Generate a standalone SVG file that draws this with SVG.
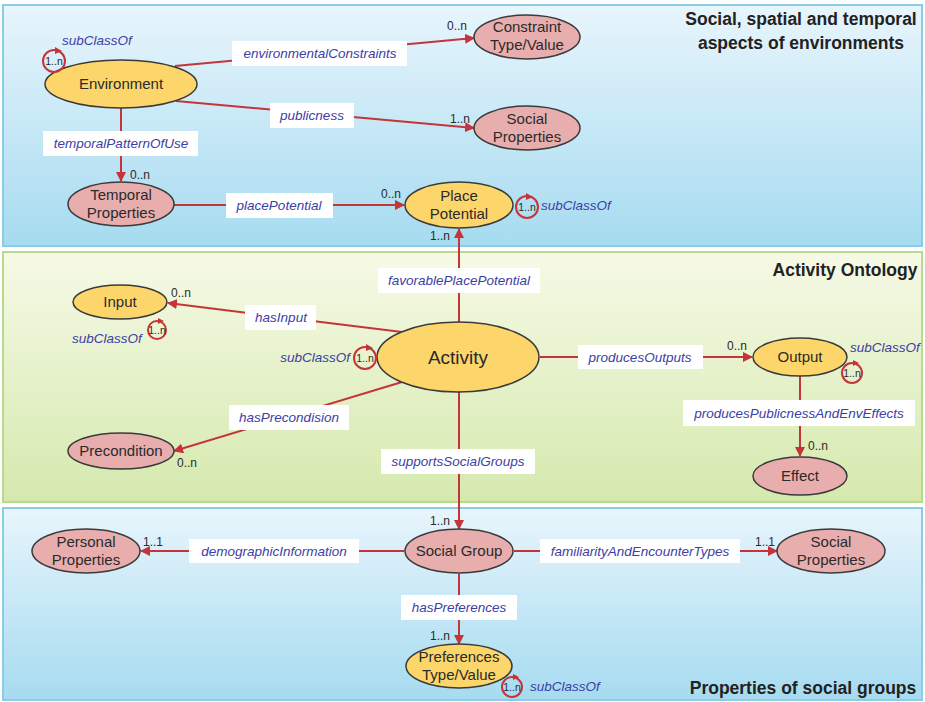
<svg xmlns="http://www.w3.org/2000/svg" width="925" height="702" viewBox="0 0 925 702">
  <defs>
    <linearGradient id="gBlue" x1="0" y1="0" x2="0" y2="1">
      <stop offset="0" stop-color="#e8f5fc"/>
      <stop offset="1" stop-color="#a6dbf0"/>
    </linearGradient>
    <linearGradient id="gGreen" x1="0" y1="0" x2="0" y2="1">
      <stop offset="0" stop-color="#f6fae6"/>
      <stop offset="1" stop-color="#d5e9ae"/>
    </linearGradient>
    <marker id="arr" viewBox="0 0 10 10" refX="9" refY="5" markerWidth="10" markerHeight="10" markerUnits="userSpaceOnUse" orient="auto">
      <path d="M0,0 L10,5 L0,10 z" fill="#c4343a"/>
    </marker>
  </defs>
  <style>
    .panelB { fill: url(#gBlue); stroke: #8ccbe6; stroke-width: 2; }
    .panelG { fill: url(#gGreen); stroke: #b8da8c; stroke-width: 2; }
    .title { font-family: "Liberation Sans", Arial, sans-serif; font-weight: bold; font-size: 17.5px; fill: #222; text-anchor: middle; }
    .yel { fill: #fcd66b; stroke: #3a3a3a; stroke-width: 1.5; }
    .pnk { fill: #e8aeae; stroke: #3a3a3a; stroke-width: 1.5; }
    .nt { font-family: "Liberation Sans", Arial, sans-serif; font-size: 15px; fill: #2a2a2a; text-anchor: middle; }
    .edge { stroke: #c4343a; stroke-width: 2; fill: none; }
    .lbox { fill: #ffffff; }
    .lt { font-family: "Liberation Sans", Arial, sans-serif; font-style: italic; font-size: 13.5px; fill: #3c40a6; text-anchor: middle; }
    .sc { font-family: "Liberation Sans", Arial, sans-serif; font-style: italic; font-size: 13.5px; fill: #3c40a6; }
    .m { font-family: "Liberation Sans", Arial, sans-serif; font-size: 12px; fill: #2a2a2a; }
    .loop { stroke: #c4343a; stroke-width: 2; fill: none; }
    .lm { font-family: "Liberation Sans", Arial, sans-serif; font-size: 10.5px; fill: #2a2a2a; text-anchor: middle; }
  </style>

  <!-- panels -->
  <rect class="panelB" x="3" y="5" width="919" height="241"/>
  <rect class="panelG" x="3" y="252" width="919" height="250"/>
  <rect class="panelB" x="3" y="508" width="919" height="192"/>

  <text class="title" x="801" y="25">Social, spatial and temporal</text>
  <text class="title" x="801" y="49">aspects of environments</text>
  <text class="title" x="845" y="276">Activity Ontology</text>
  <text class="title" x="803" y="694">Properties of social groups</text>

  <!-- connectors -->
  <g id="connectors">
    <line class="edge" x1="175" y1="66" x2="474" y2="38" marker-end="url(#arr)"/>
    <line class="edge" x1="176" y1="101" x2="474" y2="128" marker-end="url(#arr)"/>
    <line class="edge" x1="121" y1="108" x2="121" y2="181" marker-end="url(#arr)"/>
    <line class="edge" x1="174" y1="205" x2="404" y2="205" marker-end="url(#arr)"/>
    <line class="edge" x1="459" y1="322" x2="459" y2="229" marker-end="url(#arr)"/>
    <line class="edge" x1="402" y1="332" x2="168" y2="303" marker-end="url(#arr)"/>
    <line class="edge" x1="402" y1="382" x2="174" y2="451" marker-end="url(#arr)"/>
    <line class="edge" x1="540" y1="357" x2="752" y2="357" marker-end="url(#arr)"/>
    <line class="edge" x1="800" y1="376" x2="800" y2="456" marker-end="url(#arr)"/>
    <line class="edge" x1="459" y1="392" x2="459" y2="529" marker-end="url(#arr)"/>
    <line class="edge" x1="404" y1="551" x2="141" y2="551" marker-end="url(#arr)"/>
    <line class="edge" x1="514" y1="551" x2="777" y2="551" marker-end="url(#arr)"/>
    <line class="edge" x1="459" y1="574" x2="459" y2="644" marker-end="url(#arr)"/>

    <!-- edge labels -->
    <rect class="lbox" x="232" y="41" width="175" height="25"/>
    <text class="lt" x="320" y="58">environmentalConstraints</text>
    <rect class="lbox" x="270" y="103" width="84" height="25"/>
    <text class="lt" x="312" y="120">publicness</text>
    <rect class="lbox" x="43" y="131" width="155" height="25"/>
    <text class="lt" x="121" y="148">temporalPatternOfUse</text>
    <rect class="lbox" x="226" y="193" width="107" height="25"/>
    <text class="lt" x="279" y="210">placePotential</text>
    <rect class="lbox" x="378" y="268" width="162" height="25"/>
    <text class="lt" x="459" y="285">favorablePlacePotential</text>
    <rect class="lbox" x="245" y="305" width="71" height="25"/>
    <text class="lt" x="281" y="322">hasInput</text>
    <rect class="lbox" x="229" y="405" width="120" height="25"/>
    <text class="lt" x="289" y="422">hasPrecondision</text>
    <rect class="lbox" x="578" y="345" width="125" height="24"/>
    <text class="lt" x="640" y="362">producesOutputs</text>
    <rect class="lbox" x="683" y="400" width="232" height="26"/>
    <text class="lt" x="799" y="418">producesPublicnessAndEnvEffects</text>
    <rect class="lbox" x="381" y="449" width="154" height="25"/>
    <text class="lt" x="458" y="466">supportsSocialGroups</text>
    <rect class="lbox" x="189" y="539" width="170" height="24"/>
    <text class="lt" x="274" y="556">demographicInformation</text>
    <rect class="lbox" x="540" y="539" width="200" height="24"/>
    <text class="lt" x="640" y="556">familiarityAndEncounterTypes</text>
    <rect class="lbox" x="401" y="595" width="116" height="25"/>
    <text class="lt" x="459" y="612">hasPreferences</text>

    <!-- multiplicities -->
    <text class="m" x="447" y="30">0..n</text>
    <text class="m" x="450" y="123">1..n</text>
    <text class="m" x="130" y="179">0..n</text>
    <text class="m" x="381" y="198">0..n</text>
    <text class="m" x="430" y="240">1..n</text>
    <text class="m" x="171" y="297">0..n</text>
    <text class="m" x="177" y="467">0..n</text>
    <text class="m" x="727" y="350">0..n</text>
    <text class="m" x="808" y="450">0..n</text>
    <text class="m" x="430" y="525">1..n</text>
    <text class="m" x="143" y="546">1..1</text>
    <text class="m" x="755" y="546">1..1</text>
    <text class="m" x="430" y="640">1..n</text>
  </g>

  <!-- nodes -->
  <g id="environment">
    <ellipse class="yel" cx="121" cy="84" rx="76" ry="24"/>
    <text class="nt" x="121" y="89">Environment</text>
    <circle class="loop" cx="54" cy="61" r="11"/>
    <path d="M55,47 L62,51 L55,54 z" fill="#c4343a"/>
    <text class="lm" x="54" y="65">1..n</text>
    <text class="sc" x="62" y="45">subClassOf</text>
  </g>
  <g id="constraint">
    <ellipse class="pnk" cx="527" cy="37" rx="53" ry="22"/>
    <text class="nt" x="527" y="32">Constraint</text>
    <text class="nt" x="527" y="50">Type/Value</text>
  </g>
  <g id="social-properties-env">
    <ellipse class="pnk" cx="527" cy="128" rx="53" ry="22"/>
    <text class="nt" x="527" y="124">Social</text>
    <text class="nt" x="527" y="142">Properties</text>
  </g>
  <g id="temporal-properties">
    <ellipse class="pnk" cx="121" cy="204" rx="53" ry="22"/>
    <text class="nt" x="121" y="200">Temporal</text>
    <text class="nt" x="121" y="218">Properties</text>
  </g>
  <g id="place-potential">
    <ellipse class="yel" cx="459" cy="205" rx="54" ry="23"/>
    <text class="nt" x="459" y="201">Place</text>
    <text class="nt" x="459" y="219">Potential</text>
    <circle class="loop" cx="527" cy="207" r="11"/>
    <path d="M526,193 L533,197 L526,200 z" fill="#c4343a"/>
    <text class="lm" x="527" y="211">1..n</text>
    <text class="sc" x="541" y="210">subClassOf</text>
  </g>
  <g id="input">
    <ellipse class="yel" cx="120" cy="302" rx="47" ry="17"/>
    <text class="nt" x="120" y="307">Input</text>
    <circle class="loop" cx="157" cy="330" r="9"/>
    <path d="M158,318 L164,321 L158,324 z" fill="#c4343a"/>
    <text class="lm" x="157" y="334">1..n</text>
    <text class="sc" x="72" y="343">subClassOf</text>
  </g>
  <g id="precondition">
    <ellipse class="pnk" cx="121" cy="451" rx="53" ry="18"/>
    <text class="nt" x="121" y="456">Precondition</text>
  </g>
  <g id="activity">
    <ellipse class="yel" cx="458" cy="357" rx="81" ry="35"/>
    <text class="nt" x="458" y="364" style="font-size:19px">Activity</text>
    <circle class="loop" cx="365" cy="358" r="11"/>
    <path d="M366,344 L373,348 L366,351 z" fill="#c4343a"/>
    <text class="lm" x="365" y="362">1..n</text>
    <text class="sc" x="350" y="362" text-anchor="end">subClassOf</text>
  </g>
  <g id="output">
    <ellipse class="yel" cx="800" cy="357" rx="47" ry="19"/>
    <text class="nt" x="800" y="362">Output</text>
    <circle class="loop" cx="852" cy="373" r="10"/>
    <path d="M853,360 L859,363 L853,366 z" fill="#c4343a"/>
    <text class="lm" x="852" y="377">1..n</text>
    <text class="sc" x="850" y="352">subClassOf</text>
  </g>
  <g id="effect">
    <ellipse class="pnk" cx="800" cy="476" rx="47" ry="19"/>
    <text class="nt" x="800" y="481">Effect</text>
  </g>
  <g id="social-group">
    <ellipse class="pnk" cx="459" cy="551" rx="54" ry="22"/>
    <text class="nt" x="459" y="556">Social Group</text>
  </g>
  <g id="personal-properties">
    <ellipse class="pnk" cx="86" cy="551" rx="54" ry="22"/>
    <text class="nt" x="86" y="547">Personal</text>
    <text class="nt" x="86" y="565">Properties</text>
  </g>
  <g id="social-properties-group">
    <ellipse class="pnk" cx="831" cy="551" rx="54" ry="22"/>
    <text class="nt" x="831" y="547">Social</text>
    <text class="nt" x="831" y="565">Properties</text>
  </g>
  <g id="preferences">
    <ellipse class="yel" cx="459" cy="666" rx="53" ry="22"/>
    <text class="nt" x="459" y="662">Preferences</text>
    <text class="nt" x="459" y="680">Type/Value</text>
    <circle class="loop" cx="512" cy="687" r="10"/>
    <path d="M513,674 L519,677 L513,680 z" fill="#c4343a"/>
    <text class="lm" x="512" y="691">1..n</text>
    <text class="sc" x="530" y="691">subClassOf</text>
  </g>
</svg>
